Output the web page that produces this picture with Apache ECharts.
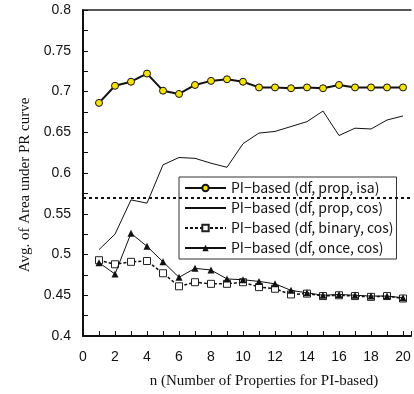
<!DOCTYPE html>
<html><head><meta charset="utf-8">
<script src="https://cdn.jsdelivr.net/npm/echarts@6/dist/echarts.min.js"></script>
<style>html,body{margin:0;padding:0;background:#fff}#c{width:414px;height:394px}</style>
</head><body><div id="c"></div>
<script>
const nValues = [1,2,3,4,5,6,7,8,9,10,11,12,13,14,15,16,17,18,19,20];
const propIsa = [0.686,0.707,0.712,0.722,0.701,0.697,0.708,0.713,0.715,0.712,0.705,0.705,0.704,0.705,0.704,0.708,0.705,0.705,0.705,0.705];
const propCos = [0.506,0.525,0.567,0.563,0.610,0.619,0.618,0.612,0.607,0.636,0.649,0.651,0.657,0.663,0.676,0.646,0.655,0.654,0.665,0.670];
const binaryCos = [0.493,0.488,0.491,0.492,0.477,0.461,0.466,0.464,0.464,0.466,0.460,0.458,0.451,0.452,0.449,0.450,0.449,0.448,0.449,0.446];
const onceCos = [0.490,0.476,0.526,0.510,0.491,0.472,0.483,0.481,0.470,0.469,0.467,0.464,0.456,0.453,0.450,0.451,0.450,0.449,0.449,0.447];
const baseline = 0.575;
const seriesNames = ['PI−based (df, prop, isa)','PI−based (df, prop, cos)','PI−based (df, binary, cos)','PI−based (df, once, cos)'];
const yTicks = ['0.4','0.45','0.5','0.55','0.6','0.65','0.7','0.75','0.8'];

const pair = arr => nValues.map((n,i)=>[n,arr[i]]);
const chart = echarts.init(document.getElementById('c'));
const sans = 'Liberation Sans';
const serif = 'Liberation Serif';
chart.setOption({
  animation:false,
  backgroundColor:'#fff',
  grid:{left:83,top:10,height:326,width:332},
  xAxis:[{
    type:'value',min:0,max:20.5,interval:1,
    name:'n (Number of Properties for PI-based)',nameLocation:'middle',nameGap:38,
    nameTextStyle:{fontFamily:serif,fontSize:15,color:'#111',padding:[0,0,0,34]},
    axisLine:{lineStyle:{color:'#111',width:2}},
    axisTick:{inside:true,length:5,lineStyle:{color:'#111',width:1}},
    axisLabel:{margin:14,fontFamily:sans,fontSize:14,color:'#111',
      formatter:v=>(Math.abs(v%2)<1e-6 && v<=20)?String(v):''},
    splitLine:{show:false}
  },{
    type:'value',position:'top',min:0,max:20.5,
    axisLine:{show:true,lineStyle:{color:'#222',width:1.5}},
    axisTick:{show:false},axisLabel:{show:false},splitLine:{show:false}
  }],
  yAxis:{
    type:'value',min:0.4,max:0.8,interval:0.05,
    name:'Avg. of Area under PR curve',nameLocation:'middle',nameGap:47,
    nameTextStyle:{fontFamily:serif,fontSize:15,color:'#111',padding:[0,24,0,0]},
    axisLine:{show:true,lineStyle:{color:'#111',width:2}},
    axisTick:{inside:true,length:5,lineStyle:{color:'#111',width:1}},
    minorTick:{show:true,splitNumber:2,length:5,lineStyle:{color:'#111',width:1}},
    axisLabel:{margin:12,fontFamily:sans,fontSize:14,color:'#111',
      formatter:v=>{const s=yTicks.find(t=>Math.abs(parseFloat(t)-v)<1e-6);return s||'';}},
    splitLine:{show:false}
  },
  legend:{
    left:179,top:177,orient:'vertical',
    backgroundColor:'#fff',borderColor:'#333',borderWidth:1,
    padding:[4,3,4,5],itemWidth:41,itemHeight:8,itemGap:6,
    textStyle:{fontFamily:'Noto Sans CJK JP',fontSize:14,lineHeight:14,color:'#111'},
    data:[seriesNames[0],{name:seriesNames[1],itemStyle:{opacity:0}},seriesNames[2],seriesNames[3]]
  },
  series:[
    {name:seriesNames[0],type:'line',data:pair(propIsa),symbol:'circle',symbolSize:7,
     lineStyle:{color:'#111',width:2},itemStyle:{color:'#f5e10a',borderColor:'#111',borderWidth:1},z:5},
    {name:seriesNames[1],type:'line',data:pair(propCos),symbol:'none',
     lineStyle:{color:'#111',width:1},itemStyle:{color:'#111'},z:4,
     markLine:{silent:true,symbol:'none',label:{show:false},
       lineStyle:{color:'#111',width:2,type:[3,3]},data:[{yAxis:baseline}]}},
    {name:seriesNames[2],type:'line',data:pair(binaryCos),symbol:'rect',symbolSize:7,
     lineStyle:{color:'#111',width:1.5,type:[3,2]},itemStyle:{color:'#fff',borderColor:'#222',borderWidth:1},z:3},
    {name:seriesNames[3],type:'line',data:pair(onceCos),symbol:'triangle',symbolSize:7,
     lineStyle:{color:'#111',width:1},itemStyle:{color:'#111'},z:4}
  ]
});
</script></body></html>
